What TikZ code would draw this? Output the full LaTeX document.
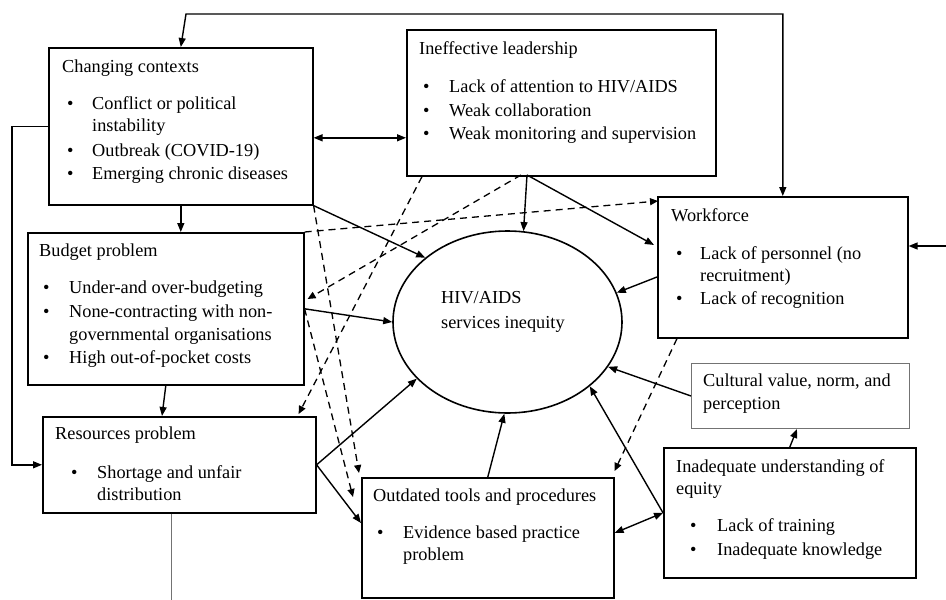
\documentclass[tikz,border=0pt]{standalone}
\usepackage{fontspec}
\setmainfont{Liberation Serif}
\usetikzlibrary{arrows.meta,calc,shapes.geometric}
\begin{document}
\begin{tikzpicture}[x=1pt,y=-1pt,
  box/.style={draw, line width=1.6pt, rectangle, inner sep=0pt, anchor=north west},
  thinbox/.style={draw=black!55, line width=1pt, rectangle, inner sep=0pt, anchor=north west},
  txt/.style={anchor=base west, inner sep=0pt, font=\fontsize{18.3}{23}\selectfont},
  arr/.style={line width=1.4pt, -{Triangle[length=9pt,width=7pt]}},
  dbl/.style={line width=1.4pt, {Triangle[length=9pt,width=7pt]}-{Triangle[length=9pt,width=7pt]}},
  darr/.style={line width=1.3pt, dash pattern=on 7pt off 5pt, -{Triangle[length=8pt,width=7pt]}}]
\fill[white] (0,0) rectangle (946,600);
\useasboundingbox (0,0) rectangle (946,600);

% boxes
\node[box, minimum width=264pt, minimum height=157pt] (cc) at (48,47) {};
\node[box, minimum width=309pt, minimum height=146pt] (il) at (406,29) {};
\node[box, minimum width=250pt, minimum height=141pt] (wf) at (657,196) {};
\node[box, minimum width=276pt, minimum height=152pt] (bp) at (27,232) {};
\node[box, minimum width=273pt, minimum height=96pt] (rp) at (42,416) {};
\node[box, minimum width=252pt, minimum height=120pt] (ot) at (361,477) {};
\node[box, minimum width=252pt, minimum height=130pt] (iu) at (663,447) {};
\node[thinbox, minimum width=218pt, minimum height=65pt] (cv) at (691,363) {};
\node[draw, ellipse, line width=1.6pt, minimum width=229pt, minimum height=182pt, inner sep=0pt] (ell) at (507.5,322) {};

% texts: changing contexts
\node[txt] (cct) at (62,72) {Changing contexts};
\node[txt] (ccb1) at (67,109) {•};
\node[txt] (cc1) at (92,109) {Conflict or political};
\node[txt] (cc1b) at (92,131) {instability};
\node[txt] (ccb2) at (67,156) {•};
\node[txt] (cc2) at (92,156) {Outbreak (COVID-19)};
\node[txt] (ccb3) at (67,179) {•};
\node[txt] (cc3) at (92,179) {Emerging chronic diseases};

% ineffective leadership
\node[txt] (ilt) at (419,54) {Ineffective leadership};
\node[txt] (ilb1) at (423,92) {•};
\node[txt] (il1) at (449,92) {Lack of attention to HIV/AIDS};
\node[txt] (ilb2) at (423,116) {•};
\node[txt] (il2) at (449,116) {Weak collaboration};
\node[txt] (ilb3) at (423,139) {•};
\node[txt] (il3) at (449,139) {Weak monitoring and supervision};

% workforce
\node[txt] (wft) at (671,221) {Workforce};
\node[txt] (wfb1) at (676,259) {•};
\node[txt] (wf1) at (700,259) {Lack of personnel (no};
\node[txt] (wf1b) at (700,281) {recruitment)};
\node[txt] (wfb2) at (676,304) {•};
\node[txt] (wf2) at (700,304) {Lack of recognition};

% budget problem
\node[txt] (bpt) at (39,256) {Budget problem};
\node[txt] (bpb1) at (43,293) {•};
\node[txt] (bp1) at (69,293) {Under-and over-budgeting};
\node[txt] (bpb2) at (43,317) {•};
\node[txt] (bp2) at (69,317) {None-contracting with non-};
\node[txt] (bp2b) at (69,340) {governmental organisations};
\node[txt] (bpb3) at (43,363) {•};
\node[txt] (bp3) at (69,363) {High out-of-pocket costs};

% resources problem
\node[txt] (rpt) at (55,439) {Resources problem};
\node[txt] (rpb1) at (71,478) {•};
\node[txt] (rp1) at (97,478) {Shortage and unfair};
\node[txt] (rp1b) at (97,500) {distribution};

% outdated tools
\node[txt] (ott) at (373,501) {Outdated tools and procedures};
\node[txt] (otb1) at (377,538) {•};
\node[txt] (ot1) at (403,538) {Evidence based practice};
\node[txt] (ot1b) at (403,560) {problem};

% inadequate understanding
\node[txt] (iut) at (676,472) {Inadequate understanding of};
\node[txt] (iut2) at (676,494) {equity};
\node[txt] (iub1) at (690,531) {•};
\node[txt] (iu1) at (717,531) {Lack of training};
\node[txt] (iub2) at (690,555) {•};
\node[txt] (iu2) at (717,555) {Inadequate knowledge};

% cultural
\node[txt] (cvt) at (703,386) {Cultural value, norm, and};
\node[txt] (cvt2) at (703,409) {perception};

% ellipse text
\node[txt] (e1) at (441,303) {HIV/AIDS};
\node[txt] (e2) at (441,328) {services inequity};

% helper coordinates
\coordinate (tl) at (186,14);
\coordinate (tr) at (wf.north |- tl);
\coordinate (re) at (946,246);
\coordinate (ilb) at (527,175);
\coordinate (ild) at (521,175);
\coordinate (rpb) at (171,600);
\coordinate (cce) at ($(cc.east)+(0,11.5)$);
\coordinate (ilw) at (cce -| il.west);

% solid connectors
\draw[dbl] (cc.north) -- (tl) -- (tr) -- (wf.north);
\draw[arr] (re) -- (re -| wf.east);
\draw[arr] (cc.west) -- ++(-36,0) |- (rp.west);
\draw[dbl] (cce) -- (ilw);
\draw[arr] (cc.south) -- (cc.south |- bp.north);
\draw[arr] (bp.south) -- ($(rp.north west)+(120,0)$);
\draw[line width=0.9pt, black!55] ($(rp.south west)+(129,0)$) -- (rpb);
\draw[arr] (cc.south east) -- (ell.142);
\draw[arr] (ilb) -- (ell.80);
\draw[arr] (ilb) -- ($(wf.north west)+(-3,49)$);
\draw[arr] ($(wf.north west)+(0,81)$) -- (ell.15);
\draw[arr] (bp.east) -- (ell.180);
\draw[arr] (rp.east) -- (ell.212);
\draw[arr] (rp.east) -- ($(ot.north west)+(0,46)$);
\draw[arr] (ot.north) -- (ell.268);
\draw[arr] (iu.west) -- (ell.322);
\draw[dbl] (iu.west) -- ($(ot.north east)+(0,56)$);
\draw[arr] (cv.west) -- (ell.336);
\draw[arr] (iu.north) -- ($(cv.south west)+(106,0)$);

% dashed connectors
\draw[darr] ($(il.south west)+(16,0)$) -- ($(rp.north east)+(-18,-2)$);
\draw[darr] (ild) -- ($(bp.north east)+(3,67)$);
\draw[darr] (bp.north east) -- ($(wf.north west)+(1,5)$);
\draw[darr] (cc.south east) -- ($(ot.north west)+(-2,-4)$);
\draw[darr] (bp.east) -- ($(ot.north west)+(-8,20)$);
\draw[darr] ($(wf.south west)+(20,0)$) -- ($(ot.north east)+(0,-6)$);
\end{tikzpicture}
\end{document}
